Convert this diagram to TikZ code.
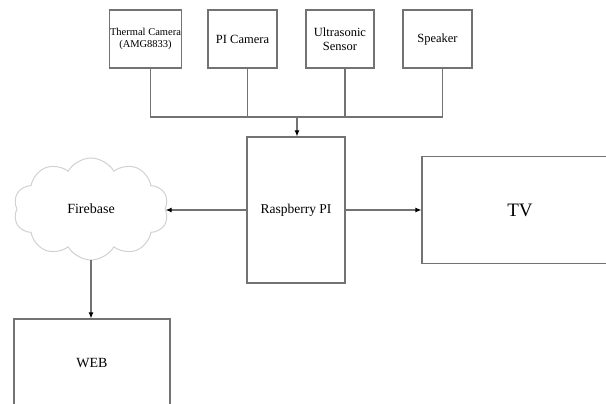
\documentclass[tikz,border=0pt]{standalone}
\usepackage{fontspec}
\setmainfont{Liberation Serif}
\usetikzlibrary{arrows.meta,shapes.symbols}
\tikzset{
  box/.style={draw=black!55,line width=1.1pt,fill=white,inner sep=1pt,align=center},
  wire/.style={draw=black!55,line width=1.1pt},
  arr/.style={wire,-{Latex[length=6pt,width=5pt,color=black]}}
}
\begin{document}
\begin{tikzpicture}[x=1pt,y=-1pt]
\useasboundingbox (0,0) rectangle (606,404);
% sensors and speaker
\node[box,minimum width=67pt,minimum height=58pt,font=\fontsize{10.5}{12}\selectfont] (th) at (145.5,39) {Thermal Camera\\(AMG8833)};
\node[box,minimum width=69pt,minimum height=58pt,font=\fontsize{12.5}{14}\selectfont] (pic) at (242.5,39) {PI Camera};
\node[box,minimum width=68pt,minimum height=58pt,font=\fontsize{12.5}{14}\selectfont] (us) at (340,39) {Ultrasonic\\Sensor};
\node[box,minimum width=69pt,minimum height=58pt,font=\fontsize{12.5}{14}\selectfont] (sp) at (437.5,39) {Speaker};
\coordinate (bus) at (297,117);
% main blocks
\node[box,minimum width=98pt,minimum height=146pt,font=\fontsize{13.5}{15}\selectfont] (rpi) at (296,210) {Raspberry PI};
\node[box,minimum width=196pt,minimum height=107pt,font=\fontsize{19}{21}\selectfont] (tv) at (520,210) {TV};
\node[cloud,draw=black!18,line width=1pt,cloud puffs=10,cloud puff arc=120,aspect=1.5,minimum width=155pt,minimum height=102pt,inner sep=0pt,font=\fontsize{14}{16}\selectfont] (fb) at (91,209) {Firebase};
\node[box,minimum width=156pt,minimum height=88pt,font=\fontsize{14}{16}\selectfont] (web) at (92,363) {WEB};
% connections
\draw[wire] ([xshift=5pt]th.south) |- (bus);
\draw[wire] ([xshift=5pt]pic.south) |- (bus);
\draw[wire] ([xshift=5pt]us.south) |- (bus);
\draw[wire] ([xshift=5pt]sp.south) |- (bus);
\draw[arr] (bus) -- (bus |- rpi.north);
\draw[arr] (rpi.west) -- (rpi.west -| fb.east);
\draw[arr] (rpi.east) -- (rpi.east -| tv.west);
\draw[arr] (fb.south) -- (fb.south |- web.north);
\end{tikzpicture}
\end{document}
